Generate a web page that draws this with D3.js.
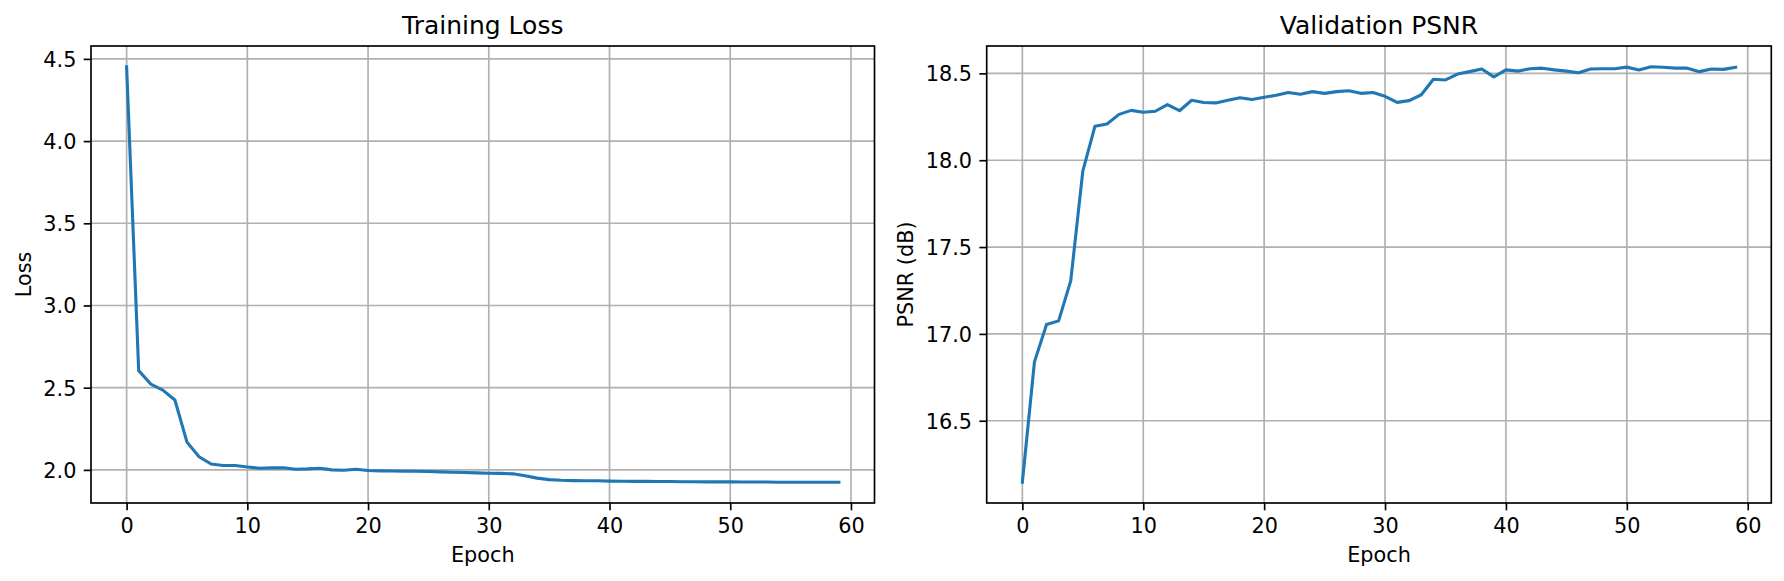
<!DOCTYPE html>
<html>
<head>
<meta charset="utf-8">
<script src="https://cdn.jsdelivr.net/npm/d3@7"></script>
<style>
  body { margin: 0; background: #fff; }
  text { font-family: "DejaVu Sans", sans-serif; fill: #000; }
</style>
</head>
<body>
<div id="viz"></div>
<script>
const width = 1784;
const height = 581;
const lineColor = '#1f77b4';
const gridColor = '#b0b0b0';

// epochs 0..59
const epochs = d3.range(60);

const trainLoss = [4.452, 2.604, 2.522, 2.485, 2.425, 2.169, 2.080, 2.036, 2.027, 2.027,
  2.018, 2.010, 2.012, 2.013, 2.004, 2.006, 2.010, 2.000, 1.998, 2.004,
  1.996, 1.994, 1.993, 1.992, 1.992, 1.990, 1.988, 1.986, 1.984, 1.982,
  1.980, 1.979, 1.976, 1.964, 1.950, 1.941, 1.937, 1.935, 1.934, 1.934,
  1.932, 1.931, 1.930, 1.930, 1.929, 1.929, 1.928, 1.928, 1.927, 1.927,
  1.927, 1.926, 1.926, 1.926, 1.925, 1.925, 1.925, 1.925, 1.925, 1.925];

const valPsnr = [16.146, 16.839, 17.054, 17.075, 17.305, 17.937, 18.195, 18.209, 18.264, 18.287,
  18.276, 18.282, 18.320, 18.285, 18.345, 18.332, 18.330, 18.345, 18.360, 18.350,
  18.362, 18.374, 18.390, 18.380, 18.395, 18.385, 18.395, 18.400, 18.385, 18.390,
  18.368, 18.333, 18.343, 18.377, 18.466, 18.462, 18.496, 18.510, 18.525, 18.480,
  18.520, 18.513, 18.527, 18.530, 18.520, 18.513, 18.504, 18.525, 18.527, 18.527,
  18.536, 18.520, 18.538, 18.535, 18.530, 18.530, 18.510, 18.525, 18.523, 18.535];

const xTicks = [0, 10, 20, 30, 40, 50, 60];
const lossTicks = [2.0, 2.5, 3.0, 3.5, 4.0, 4.5];
const psnrTicks = [16.5, 17.0, 17.5, 18.0, 18.5];

const svg = d3.select('#viz')
  .append('svg')
    .attr('width', width)
    .attr('height', height);

svg.append('rect').attr('width', width).attr('height', height).attr('fill', '#fff');

// matplotlib style 5% padding on the data range
const padded = (vals) => {
  const [lo, hi] = d3.extent(vals);
  const m = (hi - lo) * 0.05;
  return [lo - m, hi + m];
};

const drawPanel = (opts) => {
  const {left, right, top, bottom, values, yTicks, title, yLabel, labelX} = opts;

  const x = d3.scaleLinear().domain(padded(epochs)).range([left, right]);
  const y = d3.scaleLinear().domain(padded(values)).range([bottom, top]);

  const g = svg.append('g');

  // grid
  g.append('g').selectAll('line').data(xTicks).join('line')
    .attr('x1', d => x(d)).attr('x2', d => x(d))
    .attr('y1', top).attr('y2', bottom)
    .attr('stroke', gridColor).attr('stroke-width', 1.67);
  g.append('g').selectAll('line').data(yTicks).join('line')
    .attr('x1', left).attr('x2', right)
    .attr('y1', d => y(d)).attr('y2', d => y(d))
    .attr('stroke', gridColor).attr('stroke-width', 1.67);

  // data line
  const line = d3.line()
    .x((d, i) => x(epochs[i]))
    .y(d => y(d));
  g.append('path')
    .attr('d', line(values))
    .attr('fill', 'none')
    .attr('stroke', lineColor)
    .attr('stroke-width', 3.1)
    .attr('stroke-linejoin', 'round')
    .attr('stroke-linecap', 'square');

  // axes
  const xAxis = d3.axisBottom(x).tickValues(xTicks).tickSize(7.3).tickPadding(7.3).tickSizeOuter(0).tickFormat(d3.format('d'));
  const yAxis = d3.axisLeft(y).tickValues(yTicks).tickSize(7.3).tickPadding(7.3).tickSizeOuter(0).tickFormat(d3.format('.1f'));

  const gx = g.append('g').attr('transform', `translate(0,${bottom})`).call(xAxis);
  const gy = g.append('g').attr('transform', `translate(${left},0)`).call(yAxis);
  [gx, gy].forEach(a => {
    a.select('.domain').remove();
    a.selectAll('line').attr('stroke', '#000').attr('stroke-width', 1.67);
    a.selectAll('text').attr('fill', '#000').style('font-size', '20.8px').style('font-family', '"DejaVu Sans", sans-serif');
  });
  gx.selectAll('text').attr('dy', '0.73em');
  gy.selectAll('text').attr('dy', '0.36em');

  // frame
  g.append('rect')
    .attr('x', left).attr('y', top)
    .attr('width', right - left).attr('height', bottom - top)
    .attr('fill', 'none').attr('stroke', '#000').attr('stroke-width', 1.67);

  // title and labels
  g.append('text')
    .attr('x', (left + right) / 2).attr('y', 34)
    .attr('text-anchor', 'middle')
    .style('font-size', '25px')
    .text(title);
  g.append('text')
    .attr('x', (left + right) / 2).attr('y', 562)
    .attr('text-anchor', 'middle')
    .style('font-size', '20.8px')
    .text('Epoch');
  g.append('text')
    .attr('transform', `translate(${labelX},${(top + bottom) / 2}) rotate(-90)`)
    .attr('text-anchor', 'middle')
    .style('font-size', '20.8px')
    .text(yLabel);
};

drawPanel({left: 91, right: 874.5, top: 46, bottom: 503, values: trainLoss,
  yTicks: lossTicks, title: 'Training Loss', yLabel: 'Loss', labelX: 31});
drawPanel({left: 986.7, right: 1771.3, top: 46, bottom: 503, values: valPsnr,
  yTicks: psnrTicks, title: 'Validation PSNR', yLabel: 'PSNR (dB)', labelX: 913});
</script>
</body>
</html>
